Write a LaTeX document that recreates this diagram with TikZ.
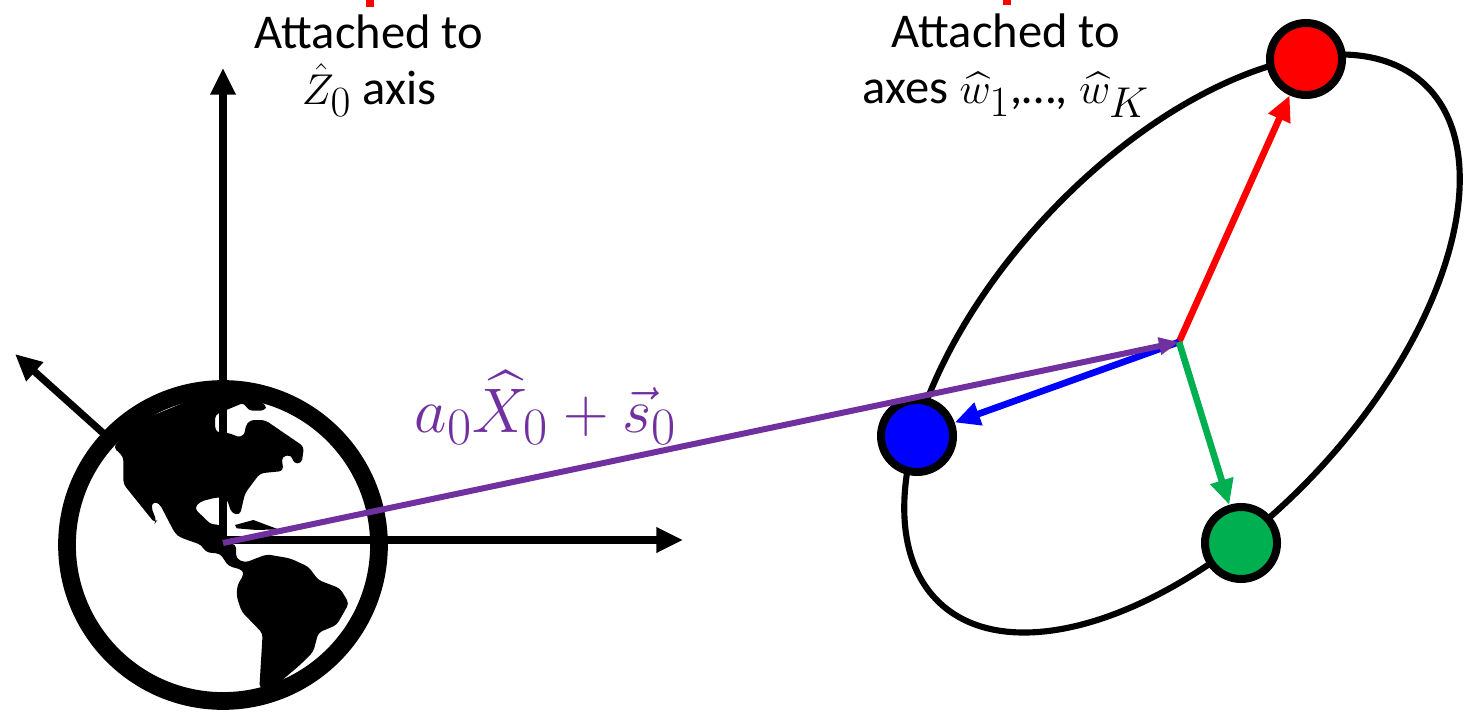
\documentclass[tikz,border=0pt]{standalone}
\usepackage{fontspec,amsmath}
\setmainfont{Carlito}
\usetikzlibrary{arrows.meta}
\definecolor{plumline}{RGB}{112,48,160}
\definecolor{greenball}{RGB}{0,176,80}
\newcommand{\bigmath}[1]{\scalebox{1.3}{$#1$}}
\tikzset{
    axisline/.style={line width=5.4pt,-{Triangle[length=20pt,width=18pt]}},
    spoke/.style={line width=5pt,-{Triangle[length=19pt,width=17pt]}},
    ball/.style={circle,draw=black,line width=6pt,minimum size=54pt,inner sep=0pt},
    caption/.style={align=center,font=\fontsize{36.4}{41.5}\selectfont},
}
\begin{document}
\begin{tikzpicture}[x=0.75pt,y=-0.75pt]
    \useasboundingbox (0,0) rectangle (1469,712);
    % axes behind the globe
    \coordinate (origin) at (223,540);
    \coordinate (zend) at (223,68);
    \coordinate (xend) at (683,540);
    \coordinate (ystart) at (103,433);
    \coordinate (yend) at (15,354);
    \draw[axisline] (origin)--(zend);
    \draw[axisline] (origin)--(xend);
    \draw[axisline] (ystart)--(yend);
    % globe
    \draw[line width=13.3pt] (223,545) circle [radius=156];
    \begin{scope}[shift={(0,340)},x=0.25pt,y=-0.25pt]
        \fill[rounded corners=3pt] (340,322)--(400,250)--(670,140)--(800,195)--(795,212)--(745,212)--(732,188)--(655,220)--(645,225)--(645,270)--(655,278)--(695,280)--(710,292)--(735,285)--(735,260)--(750,240)--(795,240)--(912,320)--(905,370)--(880,370)--(875,345)--(845,350)--(850,393)--(780,400)--(735,460)--(720,525)--(695,520)--(680,475)--(650,472)--(600,485)--(583,505)--(635,555)--(660,552)--(668,610)--(708,612)--(708,655)--(735,668)--(800,643)--(870,655)--(925,680)--(955,720)--(1020,745)--(1047,790)--(1010,855)--(955,878)--(940,935)--(900,975)--(835,1030)--(778,1045)--(788,880)--(725,815)--(710,770)--(712,735)--(732,703)--(728,690)--(685,678)--(660,640)--(640,640)--(615,635)--(605,615)--(540,592)--(525,580)--(478,490)--(460,485)--(453,500)--(470,543)--(465,550)--(370,432)--(370,350)--cycle;
        \fill (705,555)--(760,540)--(835,568)--(770,570)--(710,565)--cycle;
    \end{scope}
    % orbit
    \draw[line width=4.6pt,rotate around={47:(1182,343.5)}] (1182,343.5) ellipse [x radius=355,y radius=186];
    % basis vectors
    \coordinate (centre) at (1179,342);
    \node[ball,fill=red] (redball) at (1306,59) {};
    \node[ball,fill=blue] (blueball) at (917,436) {};
    \node[ball,fill=greenball] (grnball) at (1241,543) {};
    \draw[spoke,red] (centre)--(redball);
    \draw[spoke,blue] (centre)--(blueball);
    \draw[spoke,greenball] (centre)--(grnball);
    % position vector
    \coordinate (start) at (223,543);
    \draw[line width=4.5pt,plumline,-{Triangle[length=15pt,width=12.5pt]}] (start)--(centre);
    \node[font=\fontsize{24.88}{28}\selectfont,plumline,scale=1.9] (poslabel) at (546,408) {$a_0\widehat{X}_0+\vec{s}_0$};
    % captions
    \node[caption] (leftcap) at (369,66) {Attached to\\\bigmath{\hat{Z}_0} axis};
    \node[caption] (rightcap) at (1006,66) {Attached to\\axes \bigmath{\widehat{w}_1},\dots, \bigmath{\widehat{w}_K}};
    \fill[red] (366,0) rectangle (374,7);
    \fill[red] (1003,0) rectangle (1011,5);
\end{tikzpicture}
\end{document}
